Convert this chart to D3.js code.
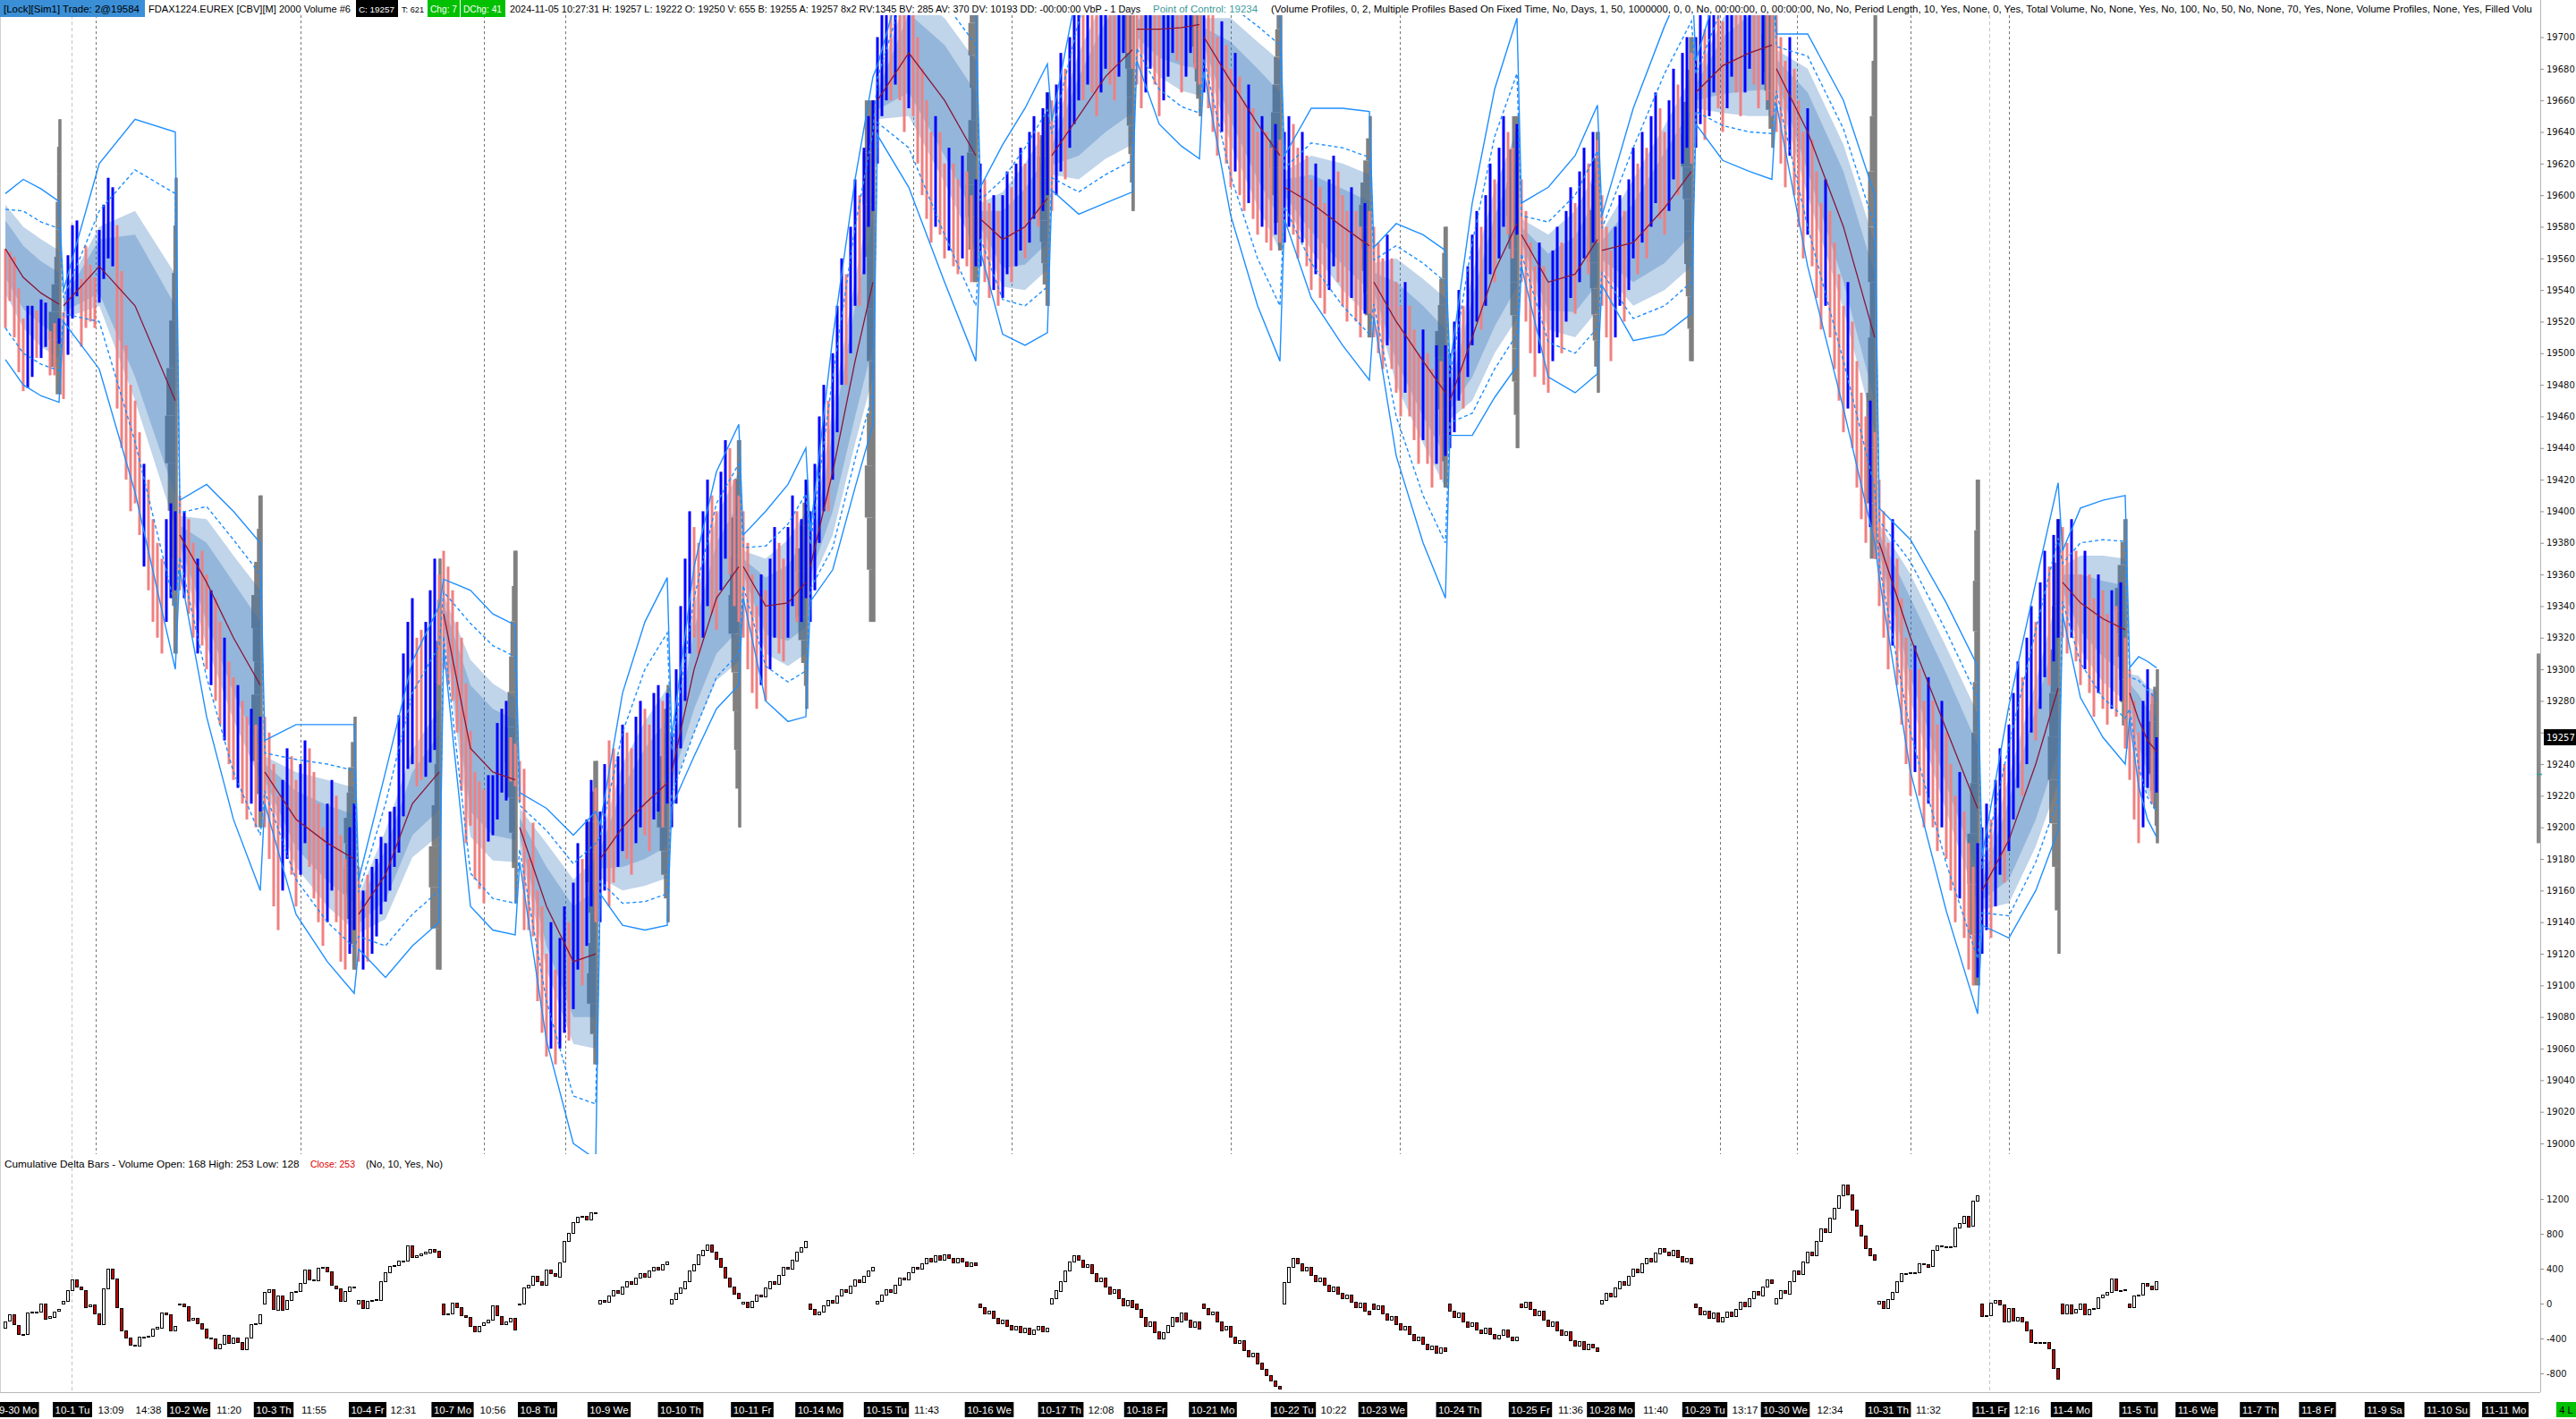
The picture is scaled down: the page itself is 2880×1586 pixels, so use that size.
<!DOCTYPE html>
<html><head><meta charset="utf-8"><title>FDAX 12-24 2000 Volume</title>
<script src="https://cdn.jsdelivr.net/npm/d3@7/dist/d3.min.js"></script>
<style>html,body{margin:0;padding:0;background:#fff}svg{display:block}</style>
</head><body><svg id="chart" width="2880" height="1586"></svg>
<script>
// ---------------- DATA ----------------
const dayStart=[0,13,39,58,79,98,115,133,149,165,180,195,218,234,253,268,286,306,323,339,357,378,396,419,442,460,475];
const barHi=[
19566,19564,19561,19541,19522,19530,19530,19527,19534,19532,19514,19519,19522,
19526,19562,19581,19584,19547,19568,19556,19548,19578,19594,19611,19605,19581,19552,19505,19480,19470,19450,19430,19420,19395,19380,19370,19395,19405,19400,
19410,19400,19395,19380,19370,19375,19360,19350,19345,19330,19320,19305,19295,19290,19280,19270,19275,19265,19270,
19270,19260,19240,19220,19230,19250,19245,19230,19240,19255,19250,19235,19215,19200,19215,19230,19220,19195,19180,19200,19215,
19175,19160,19170,19175,19180,19194,19190,19210,19213,19271,19310,19330,19345,19320,19325,19330,19350,19370,19360,
19375,19365,19350,19330,19320,19291,19261,19235,19229,19224,19233,19233,19266,19275,19280,19257,19253,
19242,19237,19180,19203,19160,19150,19120,19140,19110,19130,19150,19140,19165,19190,19180,19205,19230,19225,
19210,19240,19255,19250,19245,19265,19260,19250,19270,19280,19275,19265,19285,19290,19280,19285,
19260,19300,19340,19370,19400,19390,19380,19400,19420,19410,19400,19425,19445,19440,19420,19410,
19400,19380,19360,19340,19360,19350,19370,19390,19380,19370,19390,19410,19400,19395,19420,
19400,19430,19460,19480,19470,19500,19530,19560,19550,19580,19610,19600,19630,19650,19660,
19700,19730,19740,19730,19750,19740,19720,19735,19730,19700,19680,19660,19640,19650,19640,19620,19630,19620,19610,19625,19615,19600,19610,
19620,19610,19595,19600,19590,19600,19615,19605,19620,19630,19620,19640,19650,19640,19655,19665,
19660,19670,19690,19680,19700,19720,19740,19730,19750,19740,19730,19745,19760,19750,19740,19755,19770,19760,19750,
19740,19725,19735,19750,19740,19720,19730,19745,19760,19750,19735,19745,19760,19750,19740,
19740,19730,19715,19700,19710,19695,19680,19690,19675,19660,19670,19655,19640,19650,19640,19630,19645,19635,
19640,19650,19645,19630,19640,19625,19610,19620,19605,19595,19610,19625,19615,19600,19590,19605,19590,19580,19595,19590,
19580,19570,19560,19575,19560,19545,19530,19545,19530,19515,19500,19515,19500,19490,19505,19495,19505,
19500,19520,19540,19530,19555,19575,19590,19580,19600,19620,19610,19630,19650,19640,19630,19645,
19610,19590,19570,19555,19570,19555,19545,19565,19580,19570,19590,19605,19595,19615,19630,19620,19640,19635,
19600,19580,19565,19580,19600,19590,19610,19630,19620,19640,19630,19650,19665,19655,19640,19660,19680,19670,19690,19700,19690,
19700,19715,19705,19720,19735,19725,19710,19725,19745,19735,19720,19735,19750,19740,19725,19740,19730,19720,
19720,19700,19685,19700,19680,19660,19640,19655,19635,19615,19595,19610,19590,19570,19550,19530,19545,19520,19495,19475,19460,19470,19450,
19420,19400,19380,19395,19370,19345,19320,19300,19315,19300,19280,19295,19280,19265,19280,19260,19240,19220,19235,19210,19190,19175,19190,
19200,19215,19205,19230,19250,19240,19265,19285,19305,19295,19320,19340,19330,19355,19375,19365,19385,19395,
19390,19380,19395,19375,19360,19375,19360,19345,19360,19350,19335,19350,19340,19355,19320,
19300,19280,19260,19280,19300,19285,19257];
const barLo=[
19516,19533,19510,19488,19476,19478,19485,19497,19497,19504,19486,19486,19506,
19471,19499,19522,19536,19504,19516,19520,19516,19532,19547,19560,19555,19465,19440,19420,19400,19405,19385,19365,19350,19330,19320,19310,19330,19345,19350,
19350,19345,19335,19320,19310,19315,19300,19290,19280,19265,19255,19240,19230,19225,19215,19205,19215,19200,19210,
19200,19180,19150,19135,19160,19180,19170,19150,19170,19190,19175,19155,19140,19125,19140,19160,19140,19115,19110,19120,19135,
19115,19110,19115,19120,19131,19145,19153,19160,19175,19184,19207,19237,19240,19226,19230,19232,19241,19249,19290,
19300,19290,19280,19260,19223,19190,19201,19167,19161,19152,19191,19195,19205,19222,19217,19229,19226,
19216,19135,19135,19131,19090,19070,19055,19060,19050,19060,19070,19065,19085,19110,19100,19125,19150,19140,
19140,19160,19150,19165,19175,19185,19180,19170,19190,19200,19195,19185,19205,19210,19200,19215,
19200,19215,19250,19280,19310,19320,19310,19320,19340,19335,19325,19350,19370,19360,19340,19330,
19320,19300,19285,19275,19290,19280,19300,19320,19310,19305,19320,19340,19330,19330,19345,
19330,19350,19380,19400,19400,19420,19450,19480,19480,19500,19530,19530,19550,19580,19590,
19620,19650,19660,19660,19670,19660,19640,19655,19650,19620,19600,19585,19570,19580,19575,19560,19565,19555,19550,19560,19555,19545,19555,
19555,19545,19535,19540,19530,19535,19550,19545,19555,19565,19560,19570,19585,19580,19590,19600,
19590,19600,19615,19610,19630,19645,19660,19660,19670,19665,19650,19665,19680,19670,19660,19675,19690,19690,19680,
19670,19655,19665,19680,19670,19650,19660,19675,19690,19685,19665,19675,19690,19680,19670,
19665,19655,19640,19625,19640,19620,19605,19615,19600,19590,19595,19585,19575,19580,19570,19565,19575,19570,
19570,19580,19575,19560,19570,19555,19540,19550,19535,19525,19540,19555,19545,19530,19520,19535,19520,19510,19525,19525,
19510,19500,19490,19505,19490,19475,19460,19475,19460,19445,19430,19445,19430,19415,19430,19420,19435,
19440,19450,19470,19465,19485,19505,19520,19515,19530,19550,19545,19560,19580,19575,19560,19575,
19545,19520,19500,19485,19500,19480,19475,19495,19510,19500,19520,19535,19525,19545,19560,19550,19570,19570,
19530,19510,19495,19510,19530,19520,19540,19560,19550,19570,19560,19580,19595,19585,19575,19590,19610,19600,19620,19630,19620,
19630,19645,19635,19650,19665,19655,19640,19655,19675,19665,19650,19665,19680,19670,19655,19670,19660,19650,
19640,19620,19605,19625,19600,19580,19560,19575,19555,19535,19515,19530,19510,19490,19470,19450,19465,19440,19415,19395,19380,19390,19370,
19340,19320,19300,19315,19290,19265,19240,19220,19235,19220,19200,19215,19200,19185,19200,19180,19160,19140,19155,19130,19110,19100,19105,
19120,19135,19130,19150,19170,19165,19185,19205,19225,19220,19240,19260,19255,19275,19295,19290,19305,19320,
19320,19310,19320,19305,19290,19300,19285,19270,19285,19275,19265,19275,19270,19280,19250,
19230,19205,19190,19200,19225,19215,19222];
const barUp=[
0,0,0,0,0,1,1,0,1,1,0,0,1,
0,1,1,1,0,0,0,0,1,1,1,1,0,0,0,0,0,0,1,0,0,0,0,1,1,1,
0,1,0,0,1,0,0,1,0,0,1,0,0,1,0,0,1,0,1,
0,0,0,0,1,1,0,0,1,1,0,0,0,0,1,1,0,0,0,1,1,
0,1,0,1,1,1,1,1,1,1,1,1,1,0,0,1,1,1,0,
0,0,0,0,0,0,0,0,0,0,1,1,1,1,1,0,0,
0,0,0,0,0,0,0,1,0,1,1,0,1,1,0,1,1,0,
1,1,0,0,1,1,0,0,1,1,0,0,1,1,0,1,
1,1,1,1,1,0,0,1,1,0,0,1,1,0,0,0,
0,0,0,0,1,0,1,1,0,0,1,1,0,1,1,
1,1,1,1,0,1,1,1,0,1,1,0,1,1,1,
1,1,1,0,1,0,0,1,0,0,0,0,0,1,0,0,1,0,0,1,0,0,1,
1,0,0,1,0,1,1,0,1,1,0,1,1,0,1,1,
0,1,1,0,1,1,1,0,1,0,0,1,1,0,0,1,1,0,0,
0,0,1,1,0,0,1,1,1,0,0,1,1,0,0,
1,0,0,0,1,0,0,1,0,0,1,0,0,1,0,0,1,0,
1,1,0,0,1,0,0,1,0,0,1,1,0,0,0,1,0,0,1,0,
0,0,0,1,0,0,0,1,0,0,0,1,0,0,1,0,1,
1,1,1,0,1,1,1,0,1,1,0,1,1,0,0,1,
0,0,0,0,1,0,0,1,1,0,1,1,0,1,1,0,1,0,
0,0,0,1,1,0,1,1,0,1,0,1,1,0,0,1,1,0,1,1,0,
1,1,0,1,1,0,0,1,1,0,0,1,1,0,0,1,0,0,
0,0,0,1,0,0,0,1,0,0,0,1,0,0,0,0,1,0,0,0,0,1,0,
0,0,0,1,0,0,0,0,1,0,0,1,0,0,1,0,0,0,1,0,0,0,1,
1,1,0,1,1,0,1,1,1,0,1,1,0,1,1,0,1,1,
0,0,1,0,0,1,0,0,1,0,0,1,0,1,0,
0,0,0,1,1,0,1];
// cumulative delta (close of each bar; resets to 0 at each day start)
const cdFirstOpen=-270;
const cdClose=[
-202,-126,-243,-345,-350,-99,-95,-90,3,-168,-147,-89,-65,
31,157,277,191,157,-38,-14,-116,-236,174,397,284,-48,-304,-390,-468,-482,-383,-380,-366,-287,-270,-99,-123,-304,-256,
3,-31,-191,-168,-229,-287,-390,-400,-509,-462,-359,-451,-390,-441,-520,-390,-236,-230,-126,
133,164,-65,96,-65,38,133,140,232,386,277,270,414,420,366,209,174,31,140,191,198,
38,-55,31,40,48,260,362,431,440,489,495,670,533,557,574,591,629,602,533,
-123,-116,10,-38,-133,-154,-253,-311,-253,-219,-185,-24,-140,-236,-209,-168,-297,
3,185,219,318,253,215,390,345,311,475,715,807,933,995,1002,961,1046,1050,
40,20,90,150,120,200,260,230,300,350,310,380,420,390,450,480,
50,120,180,260,380,450,560,620,680,600,520,420,300,200,120,60,
20,-40,30,100,80,180,260,230,330,420,400,500,600,650,720,
-60,-120,-90,-20,40,10,90,160,130,210,280,250,320,380,420,
30,100,160,130,220,300,280,360,420,400,460,520,480,550,500,560,520,470,520,480,430,470,440,
-40,-110,-80,-160,-220,-180,-250,-300,-260,-330,-280,-350,-300,-260,-320,-280,
60,150,260,380,480,550,500,420,450,350,260,300,200,120,160,60,-20,40,-40,
-60,-150,-250,-200,-320,-400,-330,-250,-150,-200,-100,-180,-260,-200,-280,
-50,-120,-90,-200,-300,-260,-380,-450,-420,-530,-600,-560,-680,-750,-820,-880,-940,-970,
250,420,520,460,380,420,330,260,300,220,150,200,120,60,100,20,-40,10,-80,-120,
-60,-20,-110,-180,-140,-230,-300,-260,-350,-420,-380,-460,-520,-480,-560,-500,-540,
-80,-150,-100,-200,-260,-220,-300,-340,-280,-350,-400,-360,-300,-380,-420,-380,
-40,20,-60,-130,-80,-180,-250,-200,-300,-360,-320,-420,-480,-430,-520,-460,-500,-540,
40,120,80,180,260,220,320,400,360,460,520,480,580,640,600,560,620,540,480,520,460,
-40,-120,-80,-160,-100,-200,-150,-90,-140,-60,20,-30,60,140,100,200,280,240,
60,150,120,260,380,340,480,600,560,720,860,820,980,1100,1240,1360,1250,1080,900,780,640,560,500,
31,-55,48,133,253,345,350,356,355,458,455,424,612,663,660,653,655,868,920,1005,885,1176,1241,
-140,-130,10,45,-10,-200,-50,-190,-150,-200,-300,-440,-450,-440,-445,-520,-740,-860,
-115,-10,-110,-65,0,-125,-60,-55,70,100,130,285,155,155,160,
-45,90,105,240,205,165,253];
// session bands (sampled bars): centre line and half-widths in points
const bandBar=[0,4,8,12,13,21,29,38,39,45,51,57,58,65,72,78,79,85,91,97,98,104,109,114,115,121,127,132,133,138,143,148,149,154,159,164,165,170,175,179,180,185,190,194,195,202,210,217,218,223,228,233,234,240,246,252,253,258,263,267,268,274,280,285,286,292,299,305,306,311,317,322,323,328,333,338,339,345,351,356,357,364,371,377,378,384,390,395,396,403,411,418,419,426,434,441,442,448,454,459,460,464,469,474,475,477,479,481];
const vwap=[19566,19548,19538,19531, 19530,19555,19530,19470, 19385,19355,19320,19290, 19235,19205,19190,19180, 19145,19170,19215,19235, 19335,19250,19235,19230, 19200,19150,19115,19120, 19180,19200,19215,19228, 19235,19300,19345,19365, 19365,19340,19342,19355, 19365,19425,19495,19545, 19660,19690,19660,19625, 19585,19572,19580,19598, 19625,19650,19675,19692, 19705,19705,19706,19708, 19700,19672,19645,19625, 19605,19595,19580,19568, 19545,19520,19495,19475, 19470,19510,19552,19582, 19575,19545,19550,19572, 19565,19570,19592,19615, 19665,19682,19690,19695, 19680,19640,19580,19510, 19380,19320,19262,19212, 19160,19192,19240,19288, 19355,19342,19332,19325, 19285,19268,19255,19248];
const fillIn=[18,20,20,20, 4,17,45,60, 6,25,35,40, 5,18,24,28, 6,16,20,24, 6,40,40,38, 6,25,35,40, 6,25,35,40, 6,25,35,40, 5,18,24,28, 6,25,35,40, 6,25,35,40, 5,18,24,28, 6,25,35,40, 5,18,24,28, 6,25,35,40, 5,18,24,28, 6,25,35,40, 6,25,35,40, 5,18,24,28, 6,25,35,40, 5,18,24,28, 6,25,35,40, 6,25,35,40, 6,25,35,40, 5,18,24,28, 6,16,20,22];
const fillOut=[28,32,34,34, 8,25,60,80, 12,40,52,60, 10,30,40,45, 12,28,34,40, 12,56,56,52, 12,40,52,60, 12,40,52,60, 12,40,52,60, 10,30,40,45, 12,40,52,60, 12,40,52,60, 10,30,40,45, 12,40,52,60, 10,30,40,45, 12,40,52,60, 10,30,40,45, 12,40,52,60, 12,40,52,60, 10,30,40,45, 12,40,52,60, 10,30,40,45, 12,40,52,60, 12,40,52,60, 12,40,52,60, 10,30,40,45, 12,28,34,38];
const dashUp=[25,42,45,48, 5,35,86,131, 14,48,62,70, 12,38,50,56, 14,45,70,80, 14,79,80,78, 14,48,62,70, 14,60,85,95, 14,45,60,65, 12,38,50,56, 14,60,85,95, 14,48,62,70, 12,38,50,56, 14,60,85,95, 12,38,50,56, 14,48,62,70, 12,38,50,56, 14,48,62,70, 14,60,85,95, 12,38,50,56, 14,60,85,95, 12,38,50,56, 14,48,62,70, 14,48,62,70, 14,60,85,95, 12,38,50,56, 10,25,32,33];
const dashDn=[50,48,45,42, 5,35,86,131, 14,60,85,95, 12,38,50,56, 14,45,70,75, 14,79,80,78, 14,60,85,95, 14,48,62,70, 14,40,50,55, 12,38,50,56, 14,48,62,70, 14,60,85,95, 12,38,50,56, 14,48,62,70, 12,38,50,56, 14,60,85,95, 12,38,50,56, 14,60,85,95, 14,48,62,70, 12,38,50,56, 14,48,62,70, 12,38,50,56, 14,60,85,95, 14,60,85,95, 14,48,62,70, 12,38,50,56, 10,30,36,38];
const solidUp=[35,62,66,65, 10,65,118,170, 22,62,80,90, 20,60,75,85, 22,65,90,105, 22,100,100,98, 22,62,80,90, 22,85,115,130, 22,65,80,90, 20,60,75,85, 22,85,115,130, 22,62,80,90, 20,60,75,85, 22,85,115,130, 20,60,75,85, 22,62,80,90, 20,60,75,85, 22,62,80,90, 22,85,115,130, 20,60,75,85, 22,85,115,130, 20,60,75,85, 22,62,80,90, 22,62,80,90, 22,85,115,130, 20,60,75,85, 16,40,50,53];
const solidDn=[70,68,65,62, 10,65,118,170, 22,85,115,130, 20,60,75,85, 22,65,90,95, 22,100,100,98, 22,85,115,130, 22,62,80,90, 22,55,70,75, 20,60,75,85, 22,62,80,90, 22,85,115,130, 20,60,75,85, 22,62,80,90, 20,60,75,85, 22,85,115,130, 20,60,75,85, 22,85,115,130, 22,62,80,90, 20,60,75,85, 22,62,80,90, 20,60,75,85, 22,85,115,130, 22,85,115,130, 22,62,80,90, 20,60,75,85, 16,42,50,54];
// daily volume profiles (1 day)
const vpHi=[19648,19611,19410,19270,19370,19375,19242,19290,19445,19420,19660,19750,19665,19770,19760,19740,19650,19580,19650,19640,19700,19750,19720,19420,19395,19395,19300];
const vpLo=[19474,19310,19200,19110,19110,19152,19050,19140,19200,19275,19330,19545,19530,19590,19650,19565,19510,19415,19440,19475,19495,19630,19370,19100,19120,19250,19190];
const vpShape=[[2,3,3,4,4,5,7,9,8,4],[2,3,4,6,8,9,7,5,4,3],[3,4,6,8,7,6,8,9,5,3],[2,4,6,7,9,8,9,7,5,3],[2,3,4,5,4,5,7,9,8,4],[3,4,5,6,7,9,8,6,4,2],[3,5,7,8,6,5,6,7,5,3],[2,4,5,7,8,9,7,6,4,2],[3,5,7,8,9,7,6,5,4,2],[2,4,6,9,8,9,7,5,3,2],[5,6,5,4,4,3,4,5,4,3],[4,6,7,6,5,7,8,9,7,4],[3,5,7,9,8,8,7,6,5,3],[4,6,8,7,6,5,5,4,3,2],[3,5,7,9,8,7,6,5,4,2],[3,4,5,6,7,8,9,8,6,3],[2,4,6,8,9,8,7,6,5,3],[3,4,6,7,9,8,7,6,5,3],[4,6,7,6,5,5,4,4,3,2],[3,5,6,8,9,7,6,5,4,2],[3,5,7,8,7,6,6,5,4,3],[3,5,7,8,9,8,7,6,4,2],[2,3,4,5,5,4,5,6,7,4],[3,4,5,4,5,6,7,9,8,5],[3,5,6,7,8,9,8,6,4,2],[3,5,7,9,8,7,6,5,4,2],[2,4,6,8,9,8,6,4,3,2]];
// axes
const priceTicks=[19000,19020,19040,19060,19080,19100,19120,19140,19160,19180,19200,19220,19240,19260,19280,19300,19320,19340,19360,19380,19400,19420,19440,19460,19480,19500,19520,19540,19560,19580,19600,19620,19640,19660,19680,19700];
const cdTicks=[-800,-400,0,400,800,1200];
const dateTickBar=[2.8,15,41,60,81,100,119,135,151,167,182,197,220,236,255,270,288,308,325,341,359,380,398,421,444,462,477,490,504,517,532,546,559];
const dateTickLabel=["9-30 Mo","10-1 Tu","10-2 We","10-3 Th","10-4 Fr","10-7 Mo","10-8 Tu","10-9 We","10-10 Th","10-11 Fr","10-14 Mo","10-15 Tu","10-16 We","10-17 Th","10-18 Fr","10-21 Mo","10-22 Tu","10-23 We","10-24 Th","10-25 Fr","10-28 Mo","10-29 Tu","10-30 We","10-31 Th","11-1 Fr","11-4 Mo","11-5 Tu","11-6 We","11-7 Th","11-8 Fr","11-9 Sa","11-10 Su","11-11 Mo"];
const timeTickBar=[23.6,32,50,69,89,109,206,245,297,350,369,389,408,430,452];
const timeTickLabel=["13:09","14:38","11:20","11:55","12:31","10:56","11:43","12:08","10:22","11:36","11:40","13:17","12:34","11:32","12:16"];
const sessionLineBar=[20.2,66,107,125.2,203,225,274,311.8,383.4,400.6,426,448];
const monthLineBar=[14.8,443.6];
const lastPrice=19257, pocPrice=19234, rangeHi=19310, rangeLo=19190;

// ---------------- CHART ----------------
const svg=d3.select("#chart");
const FONT='"Liberation Sans", Arial, sans-serif';
const NARROW='"Liberation Sans Narrow", "Liberation Sans", Arial, sans-serif';
const AX=2840, PT=17, PB=1290, LT=1292, LB=1556;
const x=d3.scaleLinear().domain([0,560]).range([6,2806]);
const y=d3.scaleLinear().domain([19000,19700]).range([1278,41.5]);
const yc=d3.scaleLinear().domain([-800,1200]).range([1535,1340]);

svg.append("rect").attr("width",2880).attr("height",1586).attr("fill","#fff");
const defs=svg.append("defs");
defs.append("clipPath").attr("id","clipP").append("rect").attr("x",1).attr("y",PT).attr("width",AX-1).attr("height",PB-PT);
defs.append("clipPath").attr("id","clipL").append("rect").attr("x",1).attr("y",LT).attr("width",AX-1).attr("height",LB-LT);

const nBars=barHi.length;
const dayEnd=dayStart.map((s,k)=>k<dayStart.length-1?dayStart[k+1]-1:nBars-1);
const dayOf=i=>d3.bisectRight(dayStart,i)-1;
const px=v=>Math.round(v)+0.5;

function fitText(g,x0,yb,target,base,fill,txt,family){
  const t=g.append("text").attr("x",x0).attr("y",yb).attr("fill",fill).attr("font-family",family||FONT).attr("font-size",base).text(txt);
  const w=t.node().getComputedTextLength();
  if(w>0) t.attr("font-size",Math.min(base*1.15,base*target/w).toFixed(2));
  return t;
}

// month separators (both panels)
svg.append("g").selectAll("line").data(monthLineBar).join("line")
  .attr("x1",d=>px(x(d))).attr("x2",d=>px(x(d))).attr("y1",PT).attr("y2",LB)
  .attr("stroke","#c4c4c4").attr("stroke-dasharray","4,3");

const gP=svg.append("g").attr("clip-path","url(#clipP)");
gP.append("g").selectAll("line").data(sessionLineBar).join("line")
  .attr("x1",d=>px(x(d))).attr("x2",d=>px(x(d))).attr("y1",PT).attr("y2",PB)
  .attr("stroke","#767676").attr("stroke-dasharray","3,3");

// volume profiles
const vpW=14;
const gVP=gP.append("g").attr("fill","#808080");
dayStart.forEach((s,k)=>{
  const xr=x(dayEnd[k])+2.5, sh=vpShape[k], n=sh.length, st=(vpHi[k]-vpLo[k])/n, mx=d3.max(sh);
  sh.forEach((v,j)=>{
    const t=vpHi[k]-j*st, w=v/mx*vpW;
    gVP.append("rect").attr("x",xr-w).attr("y",y(t)).attr("width",w).attr("height",Math.max(1,y(t-st)-y(t)));
  });
  gVP.append("rect").attr("x",xr-3).attr("y",y(vpHi[k])).attr("width",3).attr("height",y(vpLo[k])-y(vpHi[k]));
});

// bands
const samples=bandBar.map((b,j)=>({b,v:vwap[j],fi:fillIn[j],fo:fillOut[j],du:dashUp[j],dd:dashDn[j],su:solidUp[j],sd:solidDn[j],day:dayOf(b)}));
const byDay=d3.groups(samples,d=>d.day);
const areaO=d3.area().x(d=>x(d.b)).y0(d=>y(d.v-d.fo)).y1(d=>y(d.v+d.fo));
const areaI=d3.area().x(d=>x(d.b)).y0(d=>y(d.v-d.fi)).y1(d=>y(d.v+d.fi));
const gB=gP.append("g");
byDay.forEach(([k,arr])=>{
  gB.append("path").attr("d",areaO(arr)).attr("fill","rgb(45,112,185)").attr("fill-opacity",0.3);
  gB.append("path").attr("d",areaI(arr)).attr("fill","rgb(45,112,185)").attr("fill-opacity",0.3);
});

// price bars
gP.append("g").selectAll("rect").data(barHi.map((h,i)=>({i,h,l:barLo[i],u:barUp[i]}))).join("rect")
  .attr("x",d=>x(d.i)-1.5).attr("width",3)
  .attr("y",d=>y(d.h)).attr("height",d=>y(d.l)-y(d.h))
  .attr("fill",d=>d.u?"#0000ff":"#f08080");

// centre (vwap) line
const lineV=d3.line().x(d=>x(d.b)).y(d=>y(d.v));
byDay.forEach(([k,arr])=>gP.append("path").attr("d",lineV(arr)).attr("fill","none").attr("stroke","#8b1538").attr("stroke-width",1.3));

// deviation lines
const dev=f=>d3.line().x(d=>x(d.b)).y(d=>y(f(d)));
const gD=gP.append("g").attr("fill","none").attr("stroke","#1e8fff").attr("stroke-width",1.4);
gD.append("path").attr("d",dev(d=>d.v+d.du)(samples)).attr("stroke-dasharray","4,3");
gD.append("path").attr("d",dev(d=>d.v-d.dd)(samples)).attr("stroke-dasharray","4,3");
gD.append("path").attr("d",dev(d=>d.v+d.su)(samples));
gD.append("path").attr("d",dev(d=>d.v-d.sd)(samples));

// ---------- lower panel: cumulative delta ----------
const gL=svg.append("g").attr("clip-path","url(#clipL)");
const cd=cdClose.map((c,i)=>{
  const o=i===0?cdFirstOpen:(dayStart.includes(i)?0:cdClose[i-1]);
  return {i,o,c};
});
gL.selectAll("rect").data(cd).join("rect")
  .attr("x",d=>Math.round(x(d.i))-1.5).attr("width",3)
  .attr("y",d=>Math.round(yc(Math.max(d.o,d.c)))+0.5)
  .attr("height",d=>Math.max(1,Math.round(Math.abs(yc(d.o)-yc(d.c)))))
  .attr("fill",d=>d.c>=d.o?"#ffffff":"#c80000").attr("stroke","#000").attr("stroke-width",1);

// ---------- frame ----------
svg.append("line").attr("x1",AX+0.5).attr("x2",AX+0.5).attr("y1",0).attr("y2",LB).attr("stroke","#b8b8b8");
svg.append("line").attr("x1",0).attr("x2",AX).attr("y1",LB+0.5).attr("y2",LB+0.5).attr("stroke","#b8b8b8");
svg.append("line").attr("x1",0.5).attr("x2",0.5).attr("y1",0).attr("y2",LB).attr("stroke","#d0d0d0");

// ---------- right axes ----------
const axP=svg.append("g").attr("transform",`translate(${AX},0)`)
  .call(d3.axisRight(y).tickValues(priceTicks).tickSize(4).tickPadding(3).tickFormat(d=>String(d)));
const axL=svg.append("g").attr("transform",`translate(${AX},0)`)
  .call(d3.axisRight(yc).tickValues(cdTicks).tickSize(4).tickPadding(3).tickFormat(d=>String(d)));
[axP,axL].forEach(a=>{
  a.select(".domain").remove();
  a.selectAll("line").attr("stroke","#909090");
  a.selectAll("text").attr("font-family",'"DejaVu Sans", sans-serif').attr("font-size",10).attr("fill","#111");
});
axP.selectAll(".tick").filter(d=>Math.abs(d-lastPrice)<8).select("text").remove();
svg.append("rect").attr("x",AX-4).attr("y",y(rangeHi)).attr("width",4).attr("height",y(rangeLo)-y(rangeHi)).attr("fill","#8a8a8a");
svg.append("line").attr("x1",AX-4).attr("x2",AX+2).attr("y1",px(y(pocPrice))).attr("y2",px(y(pocPrice))).attr("stroke","#2a9d9d").attr("stroke-width",1.5);
svg.append("rect").attr("x",AX+4).attr("y",y(lastPrice)-9).attr("width",36).attr("height",18).attr("fill","#000");
svg.append("text").attr("x",AX+7).attr("y",y(lastPrice)+4).attr("font-family",'"DejaVu Sans", sans-serif').attr("font-size",10).attr("fill","#fff").text(String(lastPrice));

// ---------- bottom time axis ----------
const gX=svg.append("g").attr("font-family",FONT).attr("font-size",11.5);
dateTickBar.forEach((b,k)=>{
  const t=gX.append("text").attr("x",x(b)).attr("y",1580).attr("text-anchor","middle").attr("fill","#fff").text(dateTickLabel[k]);
  const w=t.node().getComputedTextLength()+5;
  gX.insert("rect",()=>t.node()).attr("x",x(b)-w/2).attr("y",1567).attr("width",w).attr("height",17).attr("fill","#000");
});
timeTickBar.forEach((b,k)=>{
  gX.append("text").attr("x",x(b)).attr("y",1580).attr("text-anchor","middle").attr("fill","#000").text(timeTickLabel[k]);
});
svg.append("rect").attr("x",2858).attr("y",1567).attr("width",22).attr("height",17).attr("fill","#00c000");
svg.append("text").attr("x",2869).attr("y",1580).attr("text-anchor","middle").attr("font-family",FONT).attr("font-size",11).attr("fill","#000").text("4 L");

// ---------- header ----------
const hdr=svg.append("g");
function hbox(x0,w,fill){hdr.append("rect").attr("x",x0).attr("y",0).attr("width",w).attr("height",19).attr("fill",fill);}
hbox(0,162,"#3a8fd6"); fitText(hdr,4,14,152,13,"#000","[Lock][Sim1]  Trade: 2@19584",NARROW);
fitText(hdr,166,14,226,13,"#000","FDAX1224.EUREX [CBV][M]  2000 Volume #6",NARROW);
hbox(398,47,"#000"); fitText(hdr,401,14,40,13,"#fff","C: 19257",NARROW);
fitText(hdr,449,14,25,13,"#000","T: 621",NARROW);
hbox(478,36,"#00c000"); fitText(hdr,481,14,30,13,"#fff","Chg: 7",NARROW);
hbox(515,50,"#00c000"); fitText(hdr,518,14,43,13,"#fff","DChg: 41",NARROW);
fitText(hdr,570,14,706,13,"#000","2024-11-05 10:27:31 H: 19257 L: 19222 O: 19250 V: 655 B: 19255 A: 19257 8x2 RV:1345 BV: 285 AV: 370 DV: 10193 DD: -00:00:00 VbP - 1 Days",NARROW);
fitText(hdr,1289,14,117,13,"#3d9b9b","Point of Control: 19234",NARROW);
fitText(hdr,1421,14,1412,13,"#000","(Volume Profiles, 0, 2, Multiple Profiles Based On Fixed Time, No, Days, 1, 50, 1000000, 0, 0, No, 00:00:00, 0, 00:00:00, No, No, Period Length, 10, Yes, None, 0, Yes, Total Volume, No, None, Yes, No, 100, No, 50, No, None, 70, Yes, None, Volume Profiles, None, Yes, Filled Volu",NARROW);

// lower panel title
const lt=svg.append("g");
fitText(lt,5,1305,330,12,"#000","Cumulative Delta Bars - Volume  Open: 168  High: 253  Low: 128",NARROW);
fitText(lt,347,1305,50,12,"#e00000","Close: 253",NARROW);
fitText(lt,409,1305,86,12,"#000","(No, 10, Yes, No)",NARROW);
</script></body></html>
